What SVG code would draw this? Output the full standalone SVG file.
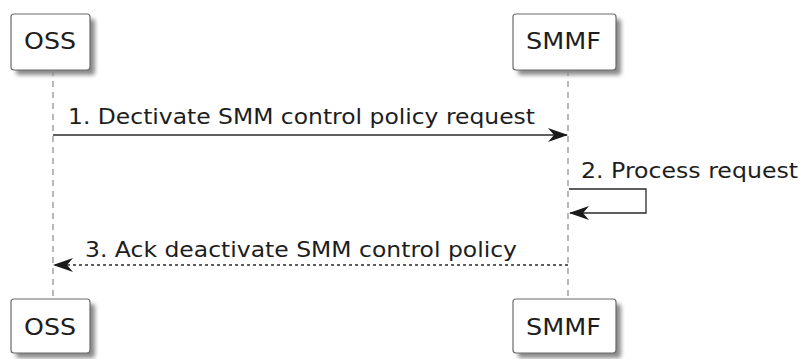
<svg xmlns="http://www.w3.org/2000/svg" width="803" height="359" viewBox="0 0 803 359">
  <style>
    .box { fill: #ffffff; stroke: #6b6b6b; stroke-width: 1.2; }
    .shadow { fill: #8a8a8a; filter: url(#soft); }
    .life { stroke: #8a8a8a; stroke-width: 1.2; stroke-dasharray: 6 5; }
    .lbl { font-family: "DejaVu Sans", sans-serif; font-size: 23.5px; fill: #1e1e1e; }
    .msg { font-family: "DejaVu Sans", sans-serif; font-size: 20.6px; fill: #1e1e1e; }
    .line { stroke: #2a2a2a; stroke-width: 1.3; fill: none; }
    .dash { stroke-dasharray: 3 3; }
  </style>
  <defs>
    <filter id="soft" x="-20%" y="-20%" width="140%" height="140%">
      <feGaussianBlur stdDeviation="2"/>
    </filter>
    <marker id="head" viewBox="0 0 20 14" refX="19" refY="7" markerWidth="20" markerHeight="14" markerUnits="userSpaceOnUse" orient="auto">
      <path d="M0,0 L20,7 L0,14 L6,7 Z" fill="#1a1a1a"/>
    </marker>
  </defs>

  <!-- lifelines -->
  <g id="lifelines">
    <line class="life" x1="53" y1="70" x2="53" y2="299"/>
    <line class="life" x1="568" y1="70" x2="568" y2="299"/>
  </g>

  <g id="oss-top">
    <rect class="shadow" x="16" y="19" width="79" height="56" rx="3"/>
    <rect class="box" x="11" y="14" width="79" height="56" rx="3"/>
    <text class="lbl" x="24" y="49" textLength="52" lengthAdjust="spacingAndGlyphs">OSS</text>
  </g>
  <g id="smmf-top">
    <rect class="shadow" x="518" y="19" width="103" height="56" rx="3"/>
    <rect class="box" x="513" y="14" width="103" height="56" rx="3"/>
    <text class="lbl" x="526" y="49" textLength="75" lengthAdjust="spacingAndGlyphs">SMMF</text>
  </g>
  <g id="oss-bottom">
    <rect class="shadow" x="16" y="304" width="79" height="54" rx="3"/>
    <rect class="box" x="11" y="299" width="79" height="54" rx="3"/>
    <text class="lbl" x="24" y="335" textLength="52" lengthAdjust="spacingAndGlyphs">OSS</text>
  </g>
  <g id="smmf-bottom">
    <rect class="shadow" x="518" y="304" width="103" height="54" rx="3"/>
    <rect class="box" x="513" y="299" width="103" height="54" rx="3"/>
    <text class="lbl" x="526" y="335" textLength="75" lengthAdjust="spacingAndGlyphs">SMMF</text>
  </g>

  <g id="connectors">
    <line class="line" x1="53" y1="135" x2="567" y2="135" marker-end="url(#head)"/>
    <text class="msg" x="68" y="124" textLength="467" lengthAdjust="spacingAndGlyphs">1. Dectivate SMM control policy request</text>

    <polyline class="line" points="569,189 646,189 646,213 570,213" marker-end="url(#head)"/>
    <text class="msg" x="581" y="178" textLength="217" lengthAdjust="spacingAndGlyphs">2. Process request</text>

    <line class="line dash" x1="568" y1="265" x2="54" y2="265" marker-end="url(#head)"/>
    <text class="msg" x="85" y="257" textLength="432" lengthAdjust="spacingAndGlyphs">3. Ack deactivate SMM control policy</text>
  </g>
</svg>
